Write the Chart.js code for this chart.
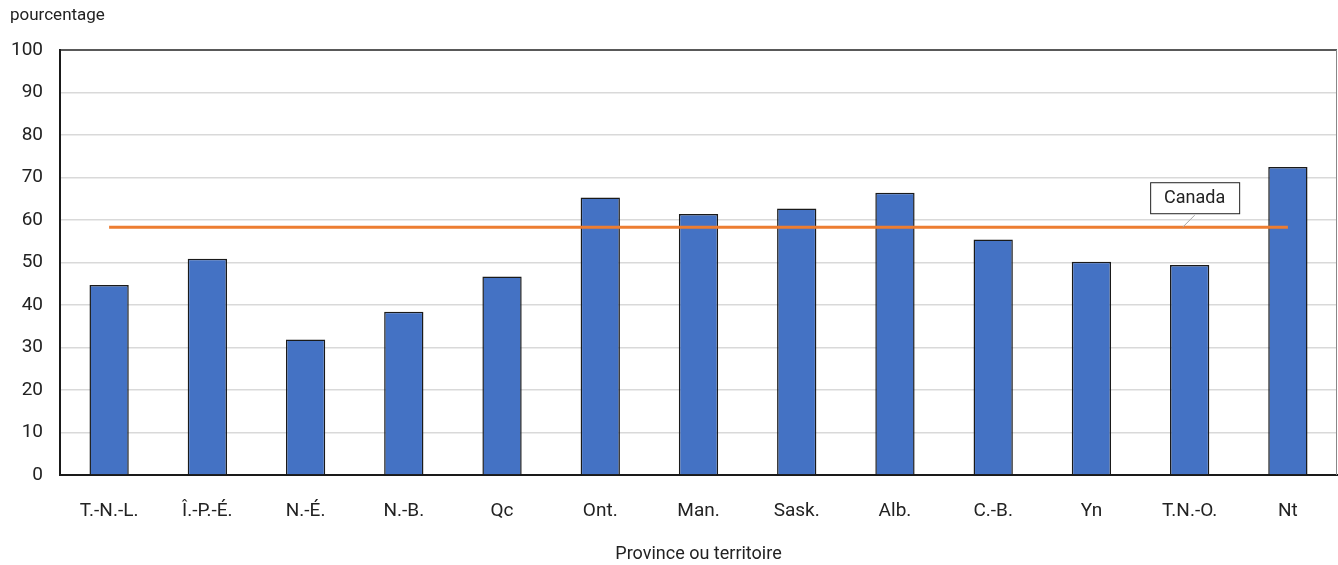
<!DOCTYPE html>
<html><head><meta charset="utf-8">
<script src="https://cdn.jsdelivr.net/npm/chart.js@4/dist/chart.umd.min.js"></script>
<style>html,body{margin:0;padding:0;background:#fff}#wrap{width:1338px;height:565px;position:relative}</style>
</head><body><div id="wrap"><canvas id="c" width="1338" height="565"></canvas></div>
<script>
const categories = ["T.-N.-L.","Î.-P.-É.","N.-É.","N.-B.","Qc","Ont.","Man.","Sask.","Alb.","C.-B.","Yn","T.N.-O.","Nt"];
const provinceValues = [44.7,50.9,31.9,38.4,46.7,65.3,61.4,62.7,66.4,55.4,50.2,49.4,72.5];
const canadaValue = 58.3;
const canadaLine = categories.map(() => canadaValue);
const yTicks = [0,10,20,30,40,50,60,70,80,90,100];
const FONT = "'Roboto', sans-serif";
const TXT = '#222222';

const extras = {
  id: 'extras',
  afterDraw(chart) {
    const {ctx, chartArea: a, scales: {x, y}} = chart;
    ctx.save();
    ctx.strokeStyle = '#222';
    ctx.lineWidth = 1.5;
    ctx.beginPath();
    ctx.moveTo(a.left, a.top); ctx.lineTo(a.right, a.top);
    ctx.stroke();
    ctx.strokeStyle = '#888';
    ctx.lineWidth = 1;
    ctx.beginPath();
    ctx.moveTo(a.right - 0.5, a.top); ctx.lineTo(a.right - 0.5, a.bottom);
    ctx.stroke();
    ctx.fillStyle = TXT;
    ctx.font = '17px ' + FONT;
    ctx.textAlign = 'left';
    ctx.textBaseline = 'middle';
    ctx.fillText('pourcentage', 10, 16);
    const py = y.getPixelForValue(canadaValue);
    const cx = x.getPixelForValue(11) + 5;
    const bw = 89, bh = 31;
    const bx = cx - bw / 2, by = py - 45;
    ctx.strokeStyle = '#a6a6a6';
    ctx.lineWidth = 1;
    ctx.beginPath();
    ctx.moveTo(cx, by + bh + 2); ctx.lineTo(cx - 12, py);
    ctx.stroke();
    ctx.fillStyle = '#fff';
    ctx.fillRect(bx, by, bw, bh);
    ctx.strokeStyle = '#222';
    ctx.strokeRect(bx + 0.5, by + 0.5, bw, bh);
    ctx.fillStyle = TXT;
    ctx.textAlign = 'center';
    ctx.font = '18px ' + FONT;
    ctx.fillText('Canada', cx, by + bh / 2 + 1);
    ctx.restore();
  }
};

new Chart(document.getElementById('c'), {
  data: {
    labels: categories,
    datasets: [
      {
        type: 'line', label: 'Canada', data: canadaLine,
        borderColor: '#ED7D31', borderWidth: 3, pointRadius: 0, fill: false, order: 0
      },
      {
        type: 'bar', label: 'Province ou territoire', data: provinceValues,
        backgroundColor: '#4472C4', borderColor: '#1a1a1a', borderWidth: 1.5,
        categoryPercentage: 1, barPercentage: 0.4, order: 1
      }
    ]
  },
  options: {
    responsive: false, animation: false,
    layout: { padding: { top: 50, right: 1, left: 0, bottom: 0 } },
    plugins: { legend: { display: false }, tooltip: { enabled: false } },
    scales: {
      x: {
        grid: { display: false, drawTicks: false },
        border: { color: '#1a1a1a', width: 2 },
        ticks: { color: TXT, font: { family: FONT, size: 19 }, padding: 25, maxRotation: 0, autoSkip: false },
        title: { display: true, text: 'Province ou territoire', color: TXT, font: { family: FONT, size: 18 }, padding: { top: 19, bottom: 0 } },
        afterFit(s) { s.height = 90; }
      },
      y: {
        min: 0, max: 100,
        afterBuildTicks(s) { s.ticks = yTicks.map(v => ({ value: v })); },
        grid: { color: ctx => ctx.tick && ctx.tick.value === 100 ? 'rgba(0,0,0,0)' : '#d9d9d9', lineWidth: 1.5, drawTicks: false },
        border: { color: '#1a1a1a', width: 2 },
        ticks: { color: TXT, font: { family: FONT, size: 19 }, padding: 17 },
        afterFit(s) { s.width = 60; }
      }
    }
  },
  plugins: [extras]
});
</script></body></html>
